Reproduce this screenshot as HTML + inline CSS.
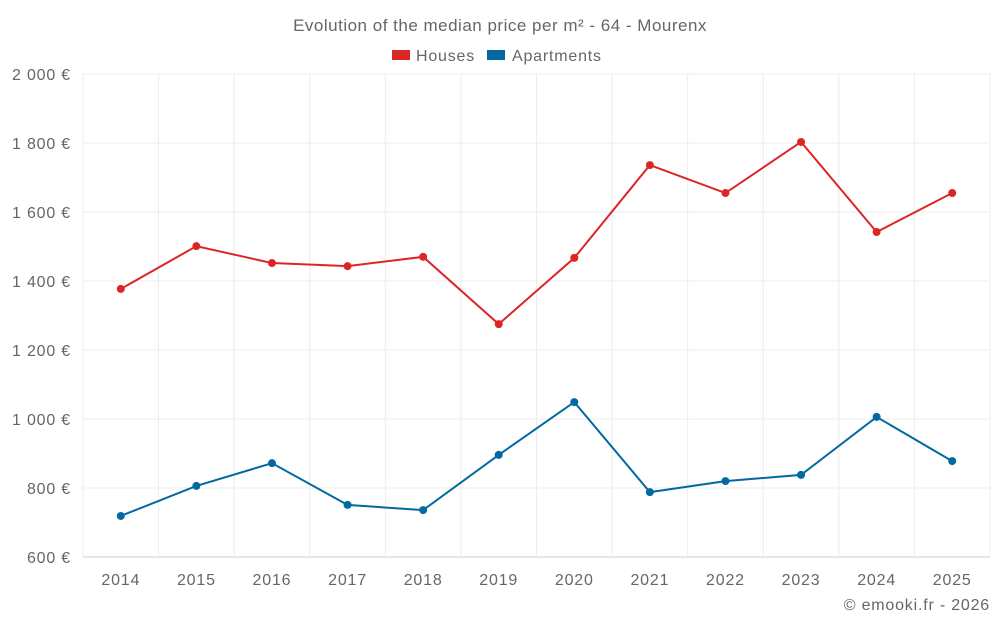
<!DOCTYPE html>
<html><head><meta charset="utf-8">
<style>
body{margin:0;background:#fff;font-family:"Liberation Sans",sans-serif;}
svg text{font-family:"Liberation Sans",sans-serif;fill:#666;letter-spacing:0.8px;}
</style></head>
<body>
<svg id="chart" width="1000" height="625">
<text x="500" y="31" text-anchor="middle" font-size="17" style="letter-spacing:0.5px">Evolution of the median price per m² - 64 - Mourenx</text>
<g>
<g><rect x="392" y="50" width="18" height="10" fill="#dc2626"/><text x="416" y="61" font-size="16">Houses</text></g>
<g><rect x="487" y="50" width="18" height="10" fill="#0369a1"/><text x="512" y="61" font-size="16">Apartments</text></g>
</g>
<g id="grid"></g>
<g id="axes"></g>
<g id="series"></g>
<text x="990" y="610" text-anchor="end" font-size="16">© emooki.fr - 2026</text>
</svg>
<script>
const years=["2014","2015","2016","2017","2018","2019","2020","2021","2022","2023","2024","2025"];
const houses=[1377,1501,1452,1443,1470,1275,1467,1736,1655,1803,1542,1655];
const apartments=[719,806,872,751,736,896,1049,788,820,838,1006,878];
const yTicks=[600,800,1000,1200,1400,1600,1800,2000];
const yTickLabels=["600 €","800 €","1 000 €","1 200 €","1 400 €","1 600 €","1 800 €","2 000 €"];
const NS="http://www.w3.org/2000/svg";
const L=83,R=990,T=74,B=557,ymin=600,ymax=2000;
const bw=(R-L)/years.length;
const xs=i=>L+bw*(i+0.5);
const ys=v=>B-(v-ymin)/(ymax-ymin)*(B-T);
function mk(tag,attrs,parent){const e=document.createElementNS(NS,tag);for(const k in attrs)e.setAttribute(k,attrs[k]);parent.appendChild(e);return e;}
const grid=document.getElementById('grid'),axes=document.getElementById('axes'),series=document.getElementById('series');
yTicks.forEach((t,i)=>{
 const l=mk('line',{x1:L,x2:R,y1:ys(t),y2:ys(t),stroke:i==0?'#ccc':'#ececec'},grid);
 
 
 const tx=mk('text',{x:71,y:ys(t)+6,'text-anchor':'end','font-size':'16'},axes);
 tx.textContent=yTickLabels[i];
 
 
});
for(let i=0;i<=years.length;i++){
 const l=mk('line',{x1:L+bw*i,x2:L+bw*i,y1:T,y2:B,stroke:'#ececec'},grid);
 
 
}
years.forEach((y,i)=>{
 const tx=mk('text',{x:xs(i),y:585,'text-anchor':'middle','font-size':'16'},axes);
 tx.textContent=y;
 
 
});
function draw(data,color,name){
 const p=mk('polyline',{points:data.map((v,i)=>xs(i)+','+ys(v)).join(' '),fill:'none',stroke:color,'stroke-width':2},series);
 
 
 data.forEach((v,i)=>{
  const c=mk('circle',{cx:xs(i),cy:ys(v),r:4,fill:color},series);
  
  
 });
}
draw(houses,'#dc2626','houses');
draw(apartments,'#0369a1','apartments');
</script>
</body></html>
